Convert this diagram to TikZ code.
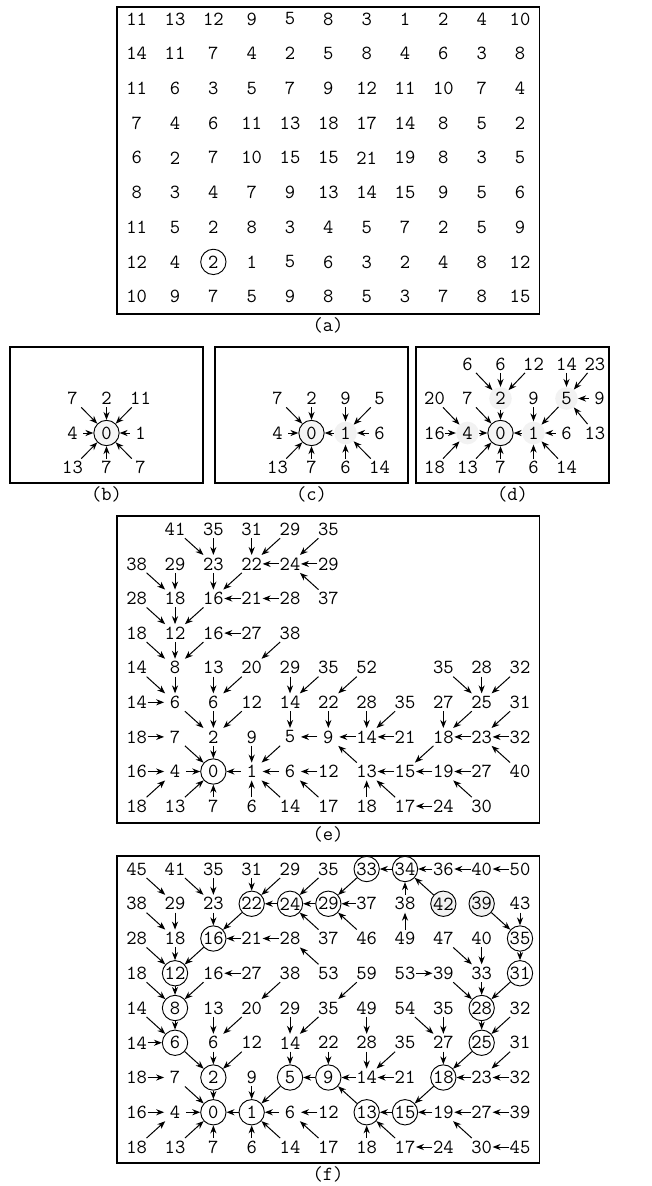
\documentclass[tikz,border=0pt]{standalone}
\usetikzlibrary{arrows.meta}
\newcommand\fnt{\ttfamily\fontsize{15}{17}\selectfont}
\begin{document}
\begin{tikzpicture}[x=0.75pt,y=-0.75pt,
  pl/.style={rectangle,inner sep=0pt,minimum width=16pt,minimum height=13pt,font=\fnt},
  cir/.style={circle,draw,line width=0.7pt,inner sep=0pt,minimum size=19pt,font=\fnt,fill=white},
  gcir/.style={cir,fill=black!5},
  gfl/.style={circle,fill=black!5,inner sep=0pt,minimum size=17pt,font=\fnt},
  gz/.style={circle,draw,line width=0.7pt,fill=black!4,inner sep=0pt,minimum size=19pt,font=\fnt},
  ar/.style={-{Stealth[length=6pt,width=4.6pt]},line width=0.75pt},
  box/.style={draw,line width=0.9pt},
  lab/.style={font=\fnt}]
\useasboundingbox (0,0) rectangle (651,1186);

% ---------------- (a)
\draw[box] (117,7) rectangle (539.3,314);
\node[lab] (la) at (328,325) {(a)};
\begin{scope}[shift={(98.37,-15.7)},x={(28.7475pt,0pt)},y={(0pt,-26.025pt)}]
\foreach \row [count=\r] in {{11,13,12,9,5,8,3,1,2,4,10},{14,11,7,4,2,5,8,4,6,3,8},{11,6,3,5,7,9,12,11,10,7,4},{7,4,6,11,13,18,17,14,8,5,2},{6,2,7,10,15,15,21,19,8,3,5},{8,3,4,7,9,13,14,15,9,5,6},{11,5,2,8,3,4,5,7,2,5,9},{12,4,2,1,5,6,3,2,4,8,12},{10,9,7,5,9,8,5,3,7,8,15}}
  \foreach \v [count=\c] in \row
    \node[pl] (a-\c-\r) at (\c,\r) {\v};
\draw[line width=0.7pt] (a-3-8) circle (9.5pt);
\end{scope}

% ---------------- (b)
\draw[box] (10,347) rectangle (203,483);
\node[lab] (lb) at (106.5,494) {(b)};
\begin{scope}[shift={(4.5,157)},x={(25.5pt,0pt)},y={(0pt,-25.875pt)}]
\foreach \c/\r/\v in {2/7/7,3/7/2,4/7/11,2/8/4,4/8/1,2/9/13,3/9/7,4/9/7}
  \node[pl] (b-\c-\r) at (\c,\r) {\v};
\node[gz] (b-3-8) at (3,8) {0};
\foreach \s/\t in {2-7/3-8,3-7/3-8,4-7/3-8,2-8/3-8,4-8/3-8,2-9/3-8,3-9/3-8,4-9/3-8}
  \draw[ar] (b-\s) -- (b-\t);
\end{scope}

% ---------------- (c)
\draw[box] (215,347) rectangle (408,483);
\node[lab] (lc) at (311.5,494) {(c)};
\begin{scope}[shift={(209.5,157)},x={(25.5pt,0pt)},y={(0pt,-25.875pt)}]
\foreach \c/\r/\v in {2/7/7,3/7/2,4/7/9,5/7/5,2/8/4,5/8/6,2/9/13,3/9/7,4/9/6,5/9/14}
  \node[pl] (c-\c-\r) at (\c,\r) {\v};
\node[gz] (c-3-8) at (3,8) {0};
\node[gfl] (c-4-8) at (4,8) {1};
\foreach \s/\t in {2-7/3-8,3-7/3-8,2-8/3-8,2-9/3-8,3-9/3-8,4-8/3-8,4-7/4-8,5-7/4-8,5-8/4-8,4-9/4-8,5-9/4-8}
  \draw[ar] (c-\s) -- (c-\t);
\end{scope}

% ---------------- (d)
\draw[box] (416,347) rectangle (609,483);
\node[lab] (ld) at (512.5,494) {(d)};
\begin{scope}[shift={(401.5,157)},x={(24.75pt,0pt)},y={(0pt,-25.875pt)}]
\foreach \c/\r/\v in {2/6/6,3/6/6,4/6/12,5/6/14,1/7/20,2/7/7,4/7/9,6/7/9,1/8/16,5/8/6,1/9/18,2/9/13,3/9/7,4/9/6,5/9/14}
  \node[pl] (d-\c-\r) at (\c,\r) {\v};
\node[pl] (d-6-6) at (5.86,6) {23};
\node[pl] (d-6-8) at (5.86,8) {13};
\node[gz] (d-3-8) at (3,8) {0};
\node[gfl] (d-3-7) at (3,7) {2};
\node[gfl] (d-5-7) at (5,7) {5};
\node[gfl] (d-2-8) at (2,8) {4};
\node[gfl] (d-4-8) at (4,8) {1};
\foreach \s/\t in {2-6/3-7,3-6/3-7,4-6/3-7,5-6/5-7,6-6/5-7,6-7/5-7,6-8/5-7,1-7/2-8,2-7/3-8,3-7/3-8,4-7/4-8,5-7/4-8,1-8/2-8,2-8/3-8,4-8/3-8,5-8/4-8,1-9/2-8,2-9/3-8,3-9/3-8,4-9/4-8,5-9/4-8}
  \draw[ar] (d-\s) -- (d-\t);
\end{scope}

% ---------------- (e)
\draw[box] (117,516) rectangle (539.3,823);
\node[lab] (le) at (328,834) {(e)};
\begin{scope}[shift={(98.37,494.7)},x={(28.7475pt,0pt)},y={(0pt,-25.95pt)}]
\foreach \c/\r/\v in {2/1/41,3/1/35,4/1/31,5/1/29,6/1/35,
  1/2/38,2/2/29,3/2/23,4/2/22,5/2/24,6/2/29,
  1/3/28,2/3/18,3/3/16,4/3/21,5/3/28,6/3/37,
  1/4/18,2/4/12,3/4/16,4/4/27,5/4/38,
  1/5/14,2/5/8,3/5/13,4/5/20,5/5/29,6/5/35,7/5/52,9/5/35,10/5/28,11/5/32,
  1/6/14,2/6/6,3/6/6,4/6/12,5/6/14,6/6/22,7/6/28,8/6/35,9/6/27,10/6/25,11/6/31,
  1/7/18,2/7/7,3/7/2,4/7/9,5/7/5,6/7/9,7/7/14,8/7/21,9/7/18,10/7/23,11/7/32,
  1/8/16,2/8/4,4/8/1,5/8/6,6/8/12,7/8/13,8/8/15,9/8/19,10/8/27,11/8/40,
  1/9/18,2/9/13,3/9/7,4/9/6,5/9/14,6/9/17,7/9/18,8/9/17,9/9/24,10/9/30}
  \node[pl] (e-\c-\r) at (\c,\r) {\v};
\node[cir] (e-3-8) at (3,8) {0};
\foreach \s/\t in {2-1/3-2,3-1/3-2,4-1/4-2,5-1/4-2,6-1/5-2,
  1-2/2-3,2-2/2-3,3-2/3-3,4-2/3-3,5-2/4-2,6-2/5-2,
  1-3/2-4,2-3/2-4,3-3/2-4,4-3/3-3,5-3/4-3,6-3/5-2,
  1-4/2-5,2-4/2-5,3-4/2-5,4-4/3-4,5-4/4-5,
  1-5/2-6,2-5/2-6,3-5/3-6,4-5/3-6,5-5/5-6,6-5/5-6,7-5/6-6,9-5/10-6,10-5/10-6,11-5/10-6,
  1-6/2-6,2-6/3-7,3-6/3-7,4-6/3-7,5-6/5-7,6-6/6-7,7-6/7-7,8-6/7-7,9-6/9-7,10-6/9-7,11-6/10-7,
  1-7/2-7,2-7/3-8,3-7/3-8,4-7/4-8,5-7/4-8,6-7/5-7,7-7/6-7,8-7/7-7,9-7/8-8,10-7/9-7,11-7/10-7,
  1-8/2-8,2-8/3-8,4-8/3-8,5-8/4-8,6-8/5-8,7-8/6-7,8-8/7-8,9-8/8-8,10-8/9-8,11-8/10-7,
  1-9/2-8,2-9/3-8,3-9/3-8,4-9/4-8,5-9/4-8,6-9/5-8,7-9/7-8,8-9/7-8,9-9/8-9,10-9/9-8}
  \draw[ar] (e-\s) -- (e-\t);
\end{scope}

% ---------------- (f)
\draw[box] (117,856) rectangle (539.3,1163);
\node[lab] (lf) at (328,1174) {(f)};
\begin{scope}[shift={(98.37,834.25)},x={(28.7475pt,0pt)},y={(0pt,-26.0625pt)}]
\foreach \c/\r/\v in {1/1/45,2/1/41,3/1/35,4/1/31,5/1/29,6/1/35,9/1/36,10/1/40,11/1/50,
  1/2/38,2/2/29,3/2/23,7/2/37,8/2/38,11/2/43,
  1/3/28,2/3/18,4/3/21,5/3/28,6/3/37,7/3/46,8/3/49,9/3/47,10/3/40,
  1/4/18,3/4/16,4/4/27,5/4/38,6/4/53,7/4/59,8/4/53,9/4/39,10/4/33,
  1/5/14,3/5/13,4/5/20,5/5/29,6/5/35,7/5/49,8/5/54,9/5/35,11/5/32,
  1/6/14,3/6/6,4/6/12,5/6/14,6/6/22,7/6/28,8/6/35,9/6/27,11/6/31,
  1/7/18,2/7/7,4/7/9,7/7/14,8/7/21,10/7/23,11/7/32,
  1/8/16,2/8/4,5/8/6,6/8/12,9/8/19,10/8/27,11/8/39,
  1/9/18,2/9/13,3/9/7,4/9/6,5/9/14,6/9/17,7/9/18,8/9/17,9/9/24,10/9/30,11/9/45}
  \node[pl] (f-\c-\r) at (\c,\r) {\v};
\foreach \c/\r/\v in {7/1/33,8/1/34,4/2/22,5/2/24,6/2/29,3/3/16,11/3/35,2/4/12,11/4/31,2/5/8,10/5/28,2/6/6,10/6/25,3/7/2,5/7/5,6/7/9,9/7/18,3/8/0,4/8/1,7/8/13,8/8/15}
  \node[cir] (f-\c-\r) at (\c,\r) {\v};
\node[gcir] (f-9-2) at (9,2) {42};
\node[gcir] (f-10-2) at (10,2) {39};
\foreach \s/\t in {1-1/2-2,2-1/3-2,3-1/3-2,4-1/4-2,5-1/4-2,6-1/5-2,7-1/6-2,8-1/7-1,9-1/8-1,10-1/9-1,11-1/10-1,
  1-2/2-3,2-2/2-3,3-2/3-3,4-2/3-3,5-2/4-2,6-2/5-2,7-2/6-2,8-2/8-1,9-2/8-1,10-2/11-3,11-2/11-3,
  1-3/2-4,2-3/2-4,3-3/2-4,4-3/3-3,5-3/4-3,6-3/5-2,7-3/6-2,8-3/8-2,9-3/10-4,10-3/10-4,11-3/11-4,
  1-4/2-5,2-4/2-5,3-4/2-5,4-4/3-4,5-4/4-5,6-4/5-3,7-4/6-5,8-4/9-4,9-4/10-5,10-4/10-5,11-4/10-5,
  1-5/2-6,2-5/2-6,3-5/3-6,4-5/3-6,5-5/5-6,6-5/5-6,7-5/7-6,8-5/9-6,9-5/9-6,10-5/10-6,11-5/10-6,
  1-6/2-6,2-6/3-7,3-6/3-7,4-6/3-7,5-6/5-7,6-6/6-7,7-6/7-7,8-6/7-7,9-6/9-7,10-6/9-7,11-6/10-7,
  1-7/2-7,2-7/3-8,3-7/3-8,4-7/4-8,5-7/4-8,6-7/5-7,7-7/6-7,8-7/7-7,9-7/8-8,10-7/9-7,11-7/10-7,
  1-8/2-8,2-8/3-8,4-8/3-8,5-8/4-8,6-8/5-8,7-8/6-7,8-8/7-8,9-8/8-8,10-8/9-8,11-8/10-8,
  1-9/2-8,2-9/3-8,3-9/3-8,4-9/4-8,5-9/4-8,6-9/5-8,7-9/7-8,8-9/7-8,9-9/8-9,10-9/9-8,11-9/10-9}
  \draw[ar] (f-\s) -- (f-\t);
\end{scope}
\end{tikzpicture}
\end{document}
